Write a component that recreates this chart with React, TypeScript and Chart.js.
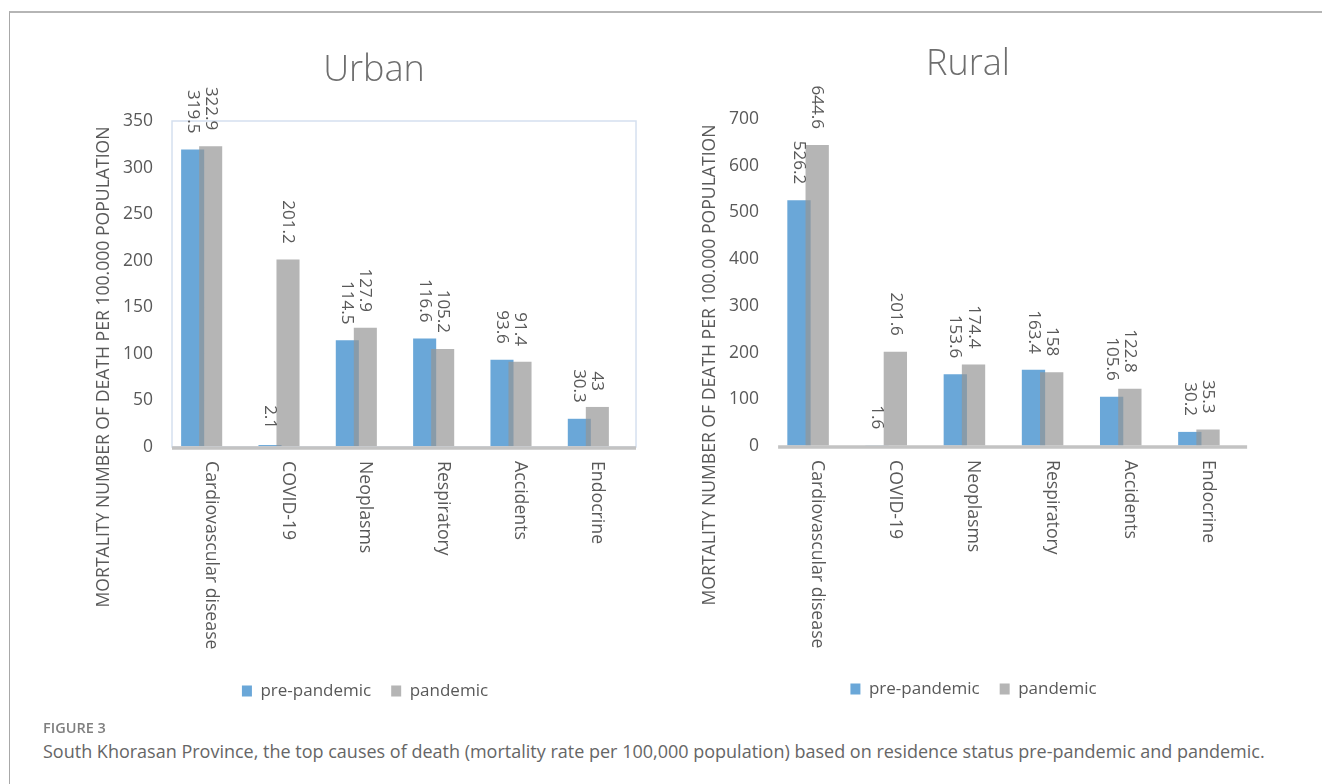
import React, { useEffect, useRef } from "react";
import { Chart, registerables } from "chart.js";

Chart.register(...registerables);

// ---------- data ----------
const categories = [
  "Cardiovascular disease",
  "COVID-19",
  "Neoplasms",
  "Respiratory",
  "Accidents",
  "Endocrine",
];
const seriesNames = ["pre-pandemic", "pandemic"];
const urbanPre = [319.5, 2.1, 114.5, 116.6, 93.6, 30.3];
const urbanPandemic = [322.9, 201.2, 127.9, 105.2, 91.4, 43];
const ruralPre = [526.2, 1.6, 153.6, 163.4, 105.6, 30.2];
const ruralPandemic = [644.6, 201.6, 174.4, 158, 122.8, 35.3];
const urbanAxis = { max: 350, step: 50 };
const ruralAxis = { max: 700, step: 100 };
const yTitle = "MORTALITY NUMBER OF DEATH PER 100.000 POPULATION";
const figureLabel = "FIGURE 3";
const caption =
  "South Khorasan Province, the top causes of death (mortality rate per 100,000 population) based on residence status pre-pandemic and pandemic.";

// ---------- styling ----------
const FONT = "'Open Sans'";
const TEXT = "#595959";
const BLUE = "#6aa7d8";
const GRAY = "rgba(150,150,150,0.7)";
const CP = 0.466;
const BP = 1.28;

type PanelCfg = {
  title: string;
  pre: number[];
  pan: number[];
  max: number;
  step: number;
  frame: boolean;
  left: number;
  top: number;
  width: number;
  height: number;
  padTop: number;
  padBottom: number;
  padLeft: number;
  padRight: number;
  xHeight: number;
  titleX: number;
  titleY: number;
};

function Panel({ cfg }: { cfg: PanelCfg }) {
  const ref = useRef<HTMLCanvasElement | null>(null);
  useEffect(() => {
    if (!ref.current) return;
    const shiftOf = (chart: any) => {
      const x = chart.scales.x;
      const w = x.getPixelForTick(1) - x.getPixelForTick(0);
      return (w * CP) / 4;
    };
    const decor = {
      id: "decor",
      beforeDatasetDraw(chart: any, args: any) {
        if (args.index === 1) return false;
      },
      afterDatasetDraw(chart: any, args: any) {
        if (args.index === 0) {
          const m = chart.getDatasetMeta(1);
          if (chart.isDatasetVisible(1)) m.controller.draw();
        }
      },
      afterDraw(chart: any) {
        const { ctx, chartArea: a, scales } = chart;
        const x = scales.x;
        const s = shiftOf(chart);
        ctx.save();
        if (cfg.frame) {
          ctx.strokeStyle = "#d5e0ef";
          ctx.lineWidth = 1.5;
          ctx.strokeRect(a.left + s, a.top, a.right - a.left, a.bottom - a.top);
        }
        ctx.strokeStyle = "#c3c3c3";
        ctx.lineWidth = 3.5;
        ctx.beginPath();
        ctx.moveTo(a.left + s, a.bottom + 1);
        ctx.lineTo(a.right + s, a.bottom + 1);
        ctx.stroke();

        // data labels
        ctx.fillStyle = TEXT;
        ctx.font = `17px ${FONT}`;
        [0, 1].forEach((di) => {
          const meta = chart.getDatasetMeta(di);
          meta.data.forEach((bar: any, i: number) => {
            const v = chart.data.datasets[di].data[i];
            ctx.save();
            ctx.translate(bar.x, bar.y - 16);
            ctx.rotate(Math.PI / 2);
            ctx.textAlign = "right";
            ctx.textBaseline = "middle";
            ctx.fillText(String(v), 0, 0);
            ctx.restore();
          });
        });

        // category labels
        ctx.font = `17.7px ${FONT}`;
        categories.forEach((c, i) => {
          const px = x.getPixelForTick(i) + s;
          ctx.save();
          ctx.translate(px, a.bottom + 14);
          ctx.rotate(Math.PI / 2);
          ctx.textAlign = "left";
          ctx.textBaseline = "middle";
          ctx.fillText(c, 0, 0);
          ctx.restore();
        });

        // y-axis title
        ctx.font = `17.6px ${FONT}`;
        ctx.save();
        ctx.translate(a.left - 59, a.top + 246);
        ctx.rotate(-Math.PI / 2);
        ctx.textAlign = "center";
        ctx.textBaseline = "middle";
        ctx.fillText(yTitle, 0, 0);
        ctx.restore();

        // chart title
        ctx.font = `300 36px ${FONT}`;
        ctx.fillStyle = "#6e6e6e";
        ctx.textAlign = "center";
        ctx.textBaseline = "middle";
        ctx.fillText(cfg.title, cfg.titleX, cfg.titleY);
        ctx.restore();
      },
    };

    const chart = new Chart(ref.current, {
      type: "bar",
      data: {
        labels: categories,
        datasets: [
          {
            label: seriesNames[0],
            data: cfg.pre,
            backgroundColor: BLUE,
            categoryPercentage: CP,
            barPercentage: BP,
          },
          {
            label: seriesNames[1],
            data: cfg.pan,
            backgroundColor: GRAY,
            categoryPercentage: CP,
            barPercentage: BP,
          },
        ],
      },
      options: {
        responsive: false,
        animation: false,
        events: [],
        layout: {
          padding: {
            top: cfg.padTop,
            bottom: cfg.padBottom,
            left: cfg.padLeft,
            right: cfg.padRight,
          },
        },
        plugins: {
          legend: {
            position: "bottom",
            labels: {
              boxWidth: 10,
              boxHeight: 11,
              padding: 20,
              color: TEXT,
              font: { family: FONT, size: 17 },
            },
          },
          tooltip: { enabled: false },
          title: { display: false },
        },
        scales: {
          x: {
            ticks: { display: false },
            grid: { display: false },
            border: { display: false },
            afterFit: (sc: any) => {
              sc.height = cfg.xHeight;
            },
          },
          y: {
            min: 0,
            max: cfg.max,
            z: 1,
            ticks: {
              stepSize: cfg.step,
              padding: 10,
              color: TEXT,
              font: { family: FONT, size: 17.5 },
            },
            grid: { color: "rgba(255,255,255,0.3)", drawTicks: false },
            border: { display: false },
            afterFit: (sc: any) => {
              sc.width = 60;
            },
          },
        },
      } as any,
      plugins: [decor as any],
    });
    return () => chart.destroy();
  }, [cfg]);
  return (
    <canvas
      ref={ref}
      width={cfg.width}
      height={cfg.height}
      style={{
        position: "absolute",
        left: cfg.left,
        top: cfg.top,
        width: cfg.width,
        height: cfg.height,
      }}
    />
  );
}

const urbanCfg: PanelCfg = {
  title: "Urban",
  pre: urbanPre,
  pan: urbanPandemic,
  max: urbanAxis.max,
  step: urbanAxis.step,
  frame: true,
  left: 60,
  top: 20,
  width: 628,
  height: 700,
  padTop: 101,
  padBottom: 10.5,
  padLeft: 43,
  padRight: 61,
  xHeight: 215.5,
  titleX: 314,
  titleY: 51,
};

const ruralCfg: PanelCfg = {
  title: "Rural",
  pre: ruralPre,
  pan: ruralPandemic,
  max: ruralAxis.max,
  step: ruralAxis.step,
  frame: false,
  left: 690,
  top: 20,
  width: 570,
  height: 700,
  padTop: 99,
  padBottom: 12.5,
  padLeft: 19,
  padRight: 22,
  xHeight: 214.5,
  titleX: 278,
  titleY: 45,
};

export default function App() {
  return (
    <div
      style={{
        position: "absolute",
        left: 0,
        top: 0,
        width: 1322,
        height: 784,
        background: "#fff",
        overflow: "hidden",
      }}
    >
      <div
        style={{
          position: "absolute",
          left: 9,
          top: 11,
          width: 1322,
          height: 800,
          borderTop: "2px solid #b5b5b5",
          borderLeft: "1.5px solid #a8a8a8",
        }}
      />
      <Panel cfg={urbanCfg} />
      <Panel cfg={ruralCfg} />
      <div
        style={{
          position: "absolute",
          left: 43,
          top: 718,
          fontFamily: FONT,
          fontWeight: 600,
          fontSize: 14.5,
          lineHeight: "20px",
          color: "#7f7f7f",
        }}
      >
        {figureLabel}
      </div>
      <div
        style={{
          position: "absolute",
          left: 43,
          top: 739,
          fontFamily: FONT,
          fontSize: 18,
          lineHeight: "24px",
          color: "#666",
          whiteSpace: "nowrap",
        }}
      >
        {caption}
      </div>
    </div>
  );
}
